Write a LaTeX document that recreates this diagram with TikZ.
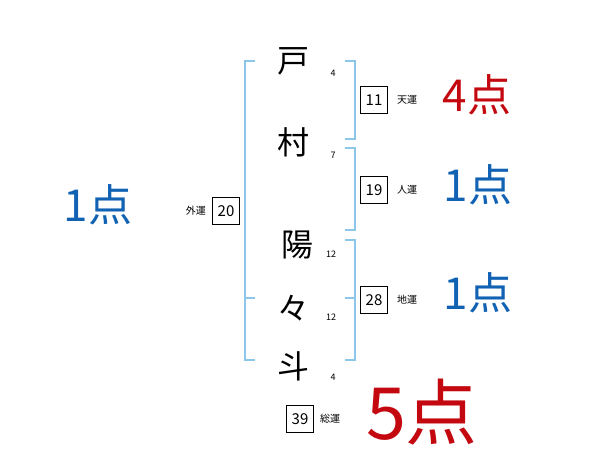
\documentclass[tikz,border=0pt]{standalone}
\usepackage{fontspec}
\setmainfont{Noto Sans CJK JP}
\usetikzlibrary{positioning}
\definecolor{scoreblue}{RGB}{18,98,180}
\definecolor{scorered}{RGB}{196,8,16}
\definecolor{bracketblue}{RGB}{140,198,232}

\begin{document}
\begin{tikzpicture}[x=1pt,y=-1pt,
  namechar/.style={font=\fontsize{32}{32}\selectfont,inner sep=0pt},
  strokenum/.style={font=\fontsize{9}{9}\selectfont,inner sep=0pt},
  numbox/.style={draw,line width=0.7pt,minimum width=27pt,minimum height=27pt,inner sep=0pt,font=\fontsize{15}{15}\selectfont},
  unkind/.style={font=\fontsize{10}{10}\selectfont,inner sep=0pt},
  score/.style={font=\fontsize{44}{44}\selectfont,inner sep=0pt},
  bracketline/.style={draw=bracketblue,line width=1.3pt}]
  \useasboundingbox (0,0) rectangle (600,470);
  % name characters and stroke counts
  \node[namechar] (c1) at (293,61) {戸};
  \node[namechar] (c2) at (293,142) {村};
  \node[namechar] (c3) at (297,245) {陽};
  \node[namechar] (c4) at (293,308) {々};
  \node[namechar] (c5) at (293,366) {斗};
  \node[strokenum] (s1) at (333,73) {4};
  \node[strokenum] (s2) at (333,155) {7};
  \node[strokenum] (s3) at (331,254) {12};
  \node[strokenum] (s4) at (331,317) {12};
  \node[strokenum] (s5) at (333,377) {4};
  % brackets
  \coordinate (lt) at (255,61);
  \coordinate (lb) at (255,360);
  \coordinate (lm) at (255,298);
  \draw[bracketline] (lt) -- (245,61) -- (245,360) -- (lb);
  \draw[bracketline] (245,298) -- (lm);
  \draw[bracketline] (345,61) -- (355,61) -- (355,139) -- (345,139);
  \draw[bracketline] (345,148) -- (355,148) -- (355,230) -- (345,230);
  \draw[bracketline] (345,240) -- (355,240) -- (355,360) -- (345,360);
  \draw[bracketline] (345,298) -- (355,298);
  % fortune boxes
  \node[numbox] (ten) at (374,100) {11};
  \node[unkind,right=9pt of ten] (tenl) {天運};
  \node[numbox] (jin) at (374,190) {19};
  \node[unkind,right=9pt of jin] (jinl) {人運};
  \node[numbox] (chi) at (374,300) {28};
  \node[unkind,right=9pt of chi] (chil) {地運};
  \node[numbox] (gai) at (226,211) {20};
  \node[unkind,left=6pt of gai] (gail) {外運};
  \node[numbox] (sou) at (300,419) {39};
  \node[unkind,right=6pt of sou] (soul) {総運};
  % scores
  \node[score,text=scorered] (p1) at (477,95) {4点};
  \node[score,text=scoreblue] (p2) at (478,185) {1点};
  \node[score,text=scoreblue] (p3) at (478,293) {1点};
  \node[score,text=scoreblue] (p4) at (98,205) {1点};
  \node[score,text=scorered,font=\fontsize{72}{72}\selectfont] (p5) at (422,412) {5点};
\end{tikzpicture}
\end{document}
